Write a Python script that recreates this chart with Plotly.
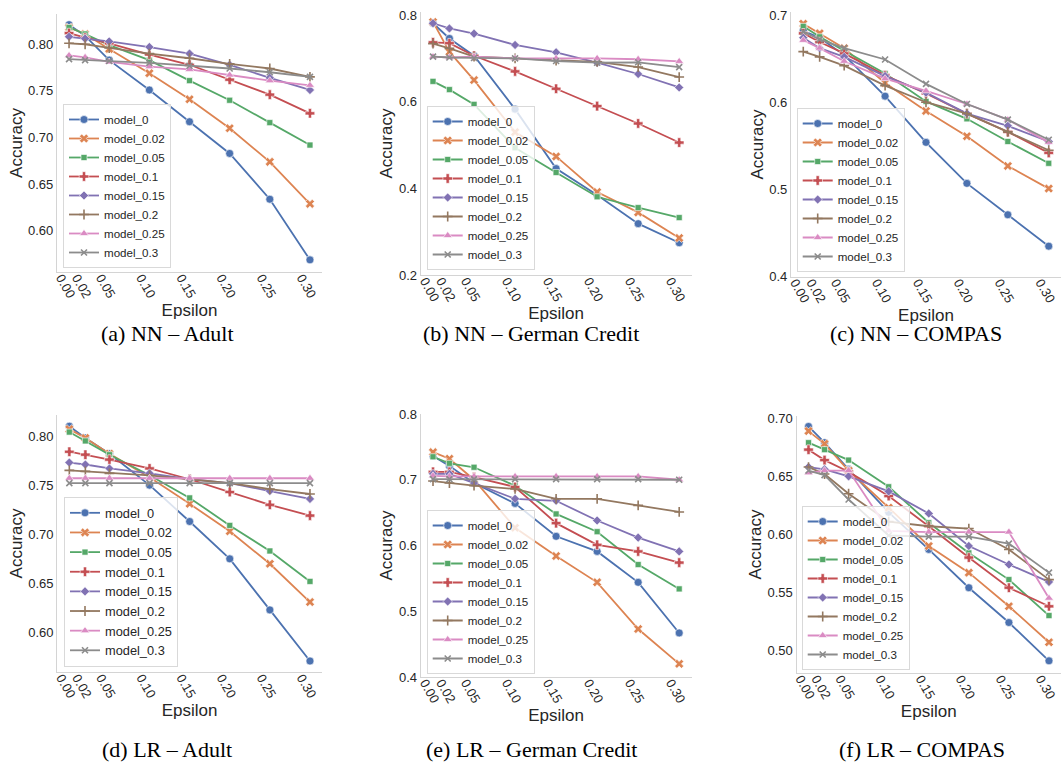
import plotly.graph_objects as go

W, H = 1063, 770

eps = [0.00, 0.02, 0.05, 0.10, 0.15, 0.20, 0.25, 0.30]
eps_labels = ["0.00", "0.02", "0.05", "0.10", "0.15", "0.20", "0.25", "0.30"]
models = ["model_0", "model_0.02", "model_0.05", "model_0.1",
          "model_0.15", "model_0.2", "model_0.25", "model_0.3"]

# (a) NN - Adult
nn_adult = [
    [0.821, 0.809, 0.783, 0.751, 0.717, 0.683, 0.634, 0.569],
    [0.818, 0.811, 0.795, 0.769, 0.741, 0.710, 0.674, 0.629],
    [0.818, 0.811, 0.799, 0.783, 0.761, 0.740, 0.716, 0.692],
    [0.812, 0.807, 0.801, 0.789, 0.778, 0.762, 0.746, 0.726],
    [0.808, 0.806, 0.803, 0.797, 0.790, 0.778, 0.764, 0.751],
    [0.801, 0.800, 0.796, 0.790, 0.785, 0.779, 0.774, 0.765],
    [0.788, 0.786, 0.781, 0.776, 0.773, 0.767, 0.761, 0.756],
    [0.784, 0.783, 0.782, 0.780, 0.777, 0.774, 0.770, 0.765],
]
# (b) NN - German Credit
nn_german = [
    [0.781, 0.746, 0.706, 0.583, 0.446, 0.385, 0.319, 0.275],
    [0.784, 0.715, 0.650, 0.530, 0.474, 0.392, 0.345, 0.286],
    [0.647, 0.628, 0.594, 0.494, 0.437, 0.381, 0.356, 0.333],
    [0.737, 0.735, 0.706, 0.670, 0.630, 0.590, 0.550, 0.506],
    [0.781, 0.769, 0.757, 0.731, 0.714, 0.690, 0.664, 0.633],
    [0.734, 0.723, 0.704, 0.700, 0.695, 0.692, 0.680, 0.657],
    [0.704, 0.702, 0.704, 0.700, 0.700, 0.700, 0.698, 0.693],
    [0.704, 0.702, 0.701, 0.700, 0.694, 0.690, 0.691, 0.680],
]
# (c) NN - COMPAS
nn_compas = [
    [0.682, 0.674, 0.654, 0.607, 0.554, 0.507, 0.471, 0.435],
    [0.690, 0.679, 0.662, 0.622, 0.590, 0.561, 0.527, 0.501],
    [0.687, 0.675, 0.659, 0.633, 0.601, 0.581, 0.555, 0.530],
    [0.679, 0.669, 0.656, 0.631, 0.610, 0.587, 0.566, 0.542],
    [0.674, 0.662, 0.652, 0.630, 0.611, 0.587, 0.573, 0.555],
    [0.658, 0.652, 0.642, 0.619, 0.600, 0.587, 0.566, 0.545],
    [0.671, 0.662, 0.647, 0.627, 0.613, 0.598, 0.580, 0.554],
    [0.681, 0.672, 0.662, 0.649, 0.621, 0.598, 0.580, 0.557],
]
# (d) LR - Adult
lr_adult = [
    [0.810, 0.798, 0.782, 0.750, 0.713, 0.675, 0.623, 0.571],
    [0.807, 0.798, 0.782, 0.758, 0.731, 0.703, 0.670, 0.631],
    [0.804, 0.795, 0.781, 0.760, 0.737, 0.709, 0.683, 0.652],
    [0.784, 0.781, 0.776, 0.767, 0.756, 0.743, 0.730, 0.719],
    [0.773, 0.771, 0.767, 0.762, 0.756, 0.752, 0.744, 0.736],
    [0.765, 0.764, 0.762, 0.760, 0.756, 0.752, 0.746, 0.741],
    [0.757, 0.757, 0.757, 0.757, 0.757, 0.757, 0.757, 0.757],
    [0.752, 0.752, 0.752, 0.752, 0.752, 0.752, 0.752, 0.752],
]
# (e) LR - German Credit
lr_german = [
    [0.736, 0.721, 0.695, 0.664, 0.614, 0.591, 0.544, 0.467],
    [0.742, 0.732, 0.700, 0.627, 0.584, 0.544, 0.473, 0.420],
    [0.735, 0.725, 0.719, 0.691, 0.648, 0.621, 0.571, 0.534],
    [0.712, 0.712, 0.704, 0.689, 0.634, 0.601, 0.591, 0.574],
    [0.709, 0.709, 0.695, 0.671, 0.668, 0.638, 0.612, 0.591],
    [0.698, 0.695, 0.691, 0.686, 0.671, 0.671, 0.661, 0.651],
    [0.706, 0.705, 0.705, 0.705, 0.705, 0.705, 0.705, 0.700],
    [0.701, 0.701, 0.701, 0.701, 0.701, 0.701, 0.701, 0.700],
]
# (f) LR - COMPAS
lr_compas = [
    [0.693, 0.679, 0.656, 0.619, 0.587, 0.554, 0.524, 0.491],
    [0.689, 0.678, 0.655, 0.623, 0.590, 0.567, 0.538, 0.507],
    [0.679, 0.673, 0.664, 0.641, 0.610, 0.584, 0.561, 0.530],
    [0.673, 0.664, 0.654, 0.633, 0.607, 0.580, 0.554, 0.538],
    [0.658, 0.656, 0.650, 0.637, 0.618, 0.590, 0.574, 0.559],
    [0.658, 0.652, 0.635, 0.611, 0.607, 0.605, 0.587, 0.561],
    [0.653, 0.655, 0.655, 0.603, 0.602, 0.602, 0.602, 0.545],
    [0.655, 0.651, 0.630, 0.599, 0.598, 0.598, 0.592, 0.567],
]

captions = ["(a) NN – Adult", "(b) NN – German Credit", "(c) NN – COMPAS",
            "(d) LR – Adult", "(e) LR – German Credit", "(f) LR – COMPAS"]
panels = [nn_adult, nn_german, nn_compas, lr_adult, lr_german, lr_compas]

colors = ["#4C72B0", "#DD8452", "#55A868", "#C44E52",
          "#8172B3", "#937860", "#DA8BC3", "#8C8C8C"]
symbols = ["circle", "x", "square", "cross", "diamond", "cross-thin",
           "triangle-up", "x-thin"]
msizes = [8, 8, 6, 8, 7, 7, 8, 6]

# layout geometry in pixels: (x0, x1, ytop, ybottom)
boxes = [
    (57, 322, 14, 272),
    (420.7, 691.5, 11.75, 275.3),
    (791, 1061, 12.4, 276.7),
    (57.3, 322, 415, 672),
    (420.7, 691.5, 414, 677),
    (796.5, 1061, 416, 673),
]
yranges = [
    [0.556, 0.8324], [0.2, 0.8075], [0.4, 0.703],
    [0.5598, 0.8214], [0.4, 0.8], [0.4805, 0.702],
]
yticks = [
    ([0.60, 0.65, 0.70, 0.75, 0.80], ".2f"),
    ([0.2, 0.4, 0.6, 0.8], ".1f"),
    ([0.4, 0.5, 0.6, 0.7], ".1f"),
    ([0.60, 0.65, 0.70, 0.75, 0.80], ".2f"),
    ([0.4, 0.5, 0.6, 0.7, 0.8], ".1f"),
    ([0.50, 0.55, 0.60, 0.65, 0.70], ".2f"),
]
# legend left x and bottom y (px)
legend_pos = [(63, 268), (426.7, 270), (796.7, 272), (64, 667), (426.7, 674), (801.7, 670)]
legend_font = [11.6, 11.6, 11.6, 12.8, 11.6, 11.6]
caption_pos = [(167, 333), (531, 333), (916, 333), (167, 749), (531, 749), (922, 749)]

SANS = "Liberation Sans, Arial, sans-serif"
SERIF = "Liberation Serif, Times New Roman, serif"
TXT = "#262626"

fig = go.Figure()
layout = dict(
    width=W, height=H, margin=dict(l=0, r=0, t=0, b=0, autoexpand=False),
    paper_bgcolor="white", plot_bgcolor="white",
    font=dict(family=SANS, color=TXT),
    showlegend=True, annotations=[],
)

for p, data in enumerate(panels):
    k = p + 1
    xa = "x" if k == 1 else f"x{k}"
    ya = "y" if k == 1 else f"y{k}"
    lg = "legend" if k == 1 else f"legend{k}"
    for i, name in enumerate(models):
        thin = symbols[i].endswith("thin")
        fig.add_trace(go.Scatter(
            x=eps, y=data[i], name=name, mode="lines+markers",
            xaxis=xa, yaxis=ya, legend=lg, cliponaxis=False,
            line=dict(color=colors[i], width=1.8),
            marker=dict(symbol=symbols[i], size=msizes[i], color=colors[i],
                        line=dict(color=colors[i] if thin else "white",
                                  width=1.6 if thin else 0.6)),
        ))
    x0, x1, yt, yb = boxes[p]
    axname_x = "xaxis" if k == 1 else f"xaxis{k}"
    axname_y = "yaxis" if k == 1 else f"yaxis{k}"
    layout[axname_x] = dict(
        domain=[x0 / W, x1 / W], anchor=ya, range=[-0.015, 0.315],
        tickvals=eps, ticktext=eps_labels, tickangle=60,
        ticklabelshift=-8, ticklabelstandoff=-8, automargin=False,
        tickfont=dict(size=13, color=TXT, family=SANS),
        showgrid=False, zeroline=False, showline=True,
        linecolor="#d4d4d4", linewidth=1.2, ticks="",
        title=dict(text="Epsilon", font=dict(size=17, color=TXT, family=SANS), standoff=0),
    )
    tv, fmt = yticks[p]
    layout[axname_y] = dict(
        domain=[1 - yb / H, 1 - yt / H], anchor=xa, range=yranges[p],
        tickvals=tv, tickformat=fmt, automargin=False,
        tickfont=dict(size=13, color=TXT, family=SANS),
        showgrid=False, zeroline=False, showline=True,
        linecolor="#d4d4d4", linewidth=1.2, ticks="",
        title=dict(text="Accuracy", font=dict(size=17, color=TXT, family=SANS), standoff=1),
    )
    lx, ly = legend_pos[p]
    layout[lg] = dict(
        x=lx / W, y=1 - ly / H, xanchor="left", yanchor="bottom",
        bgcolor="rgba(255,255,255,0.8)", bordercolor="#d9d9d9", borderwidth=1,
        font=dict(size=legend_font[p], color=TXT, family=SANS),
        tracegroupgap=0, itemwidth=30,
    )
    cx, cy = caption_pos[p]
    layout["annotations"].append(dict(
        text=captions[p], x=cx / W, y=1 - cy / H, xref="paper", yref="paper",
        xanchor="center", yanchor="middle", showarrow=False,
        font=dict(family=SERIF, size=22, color="black"),
    ))

fig.update_layout(**layout)
fig.write_html("out.html", config={"displayModeBar": False},
               post_script="document.body.style.margin='0px';document.body.style.overflow='hidden';")
